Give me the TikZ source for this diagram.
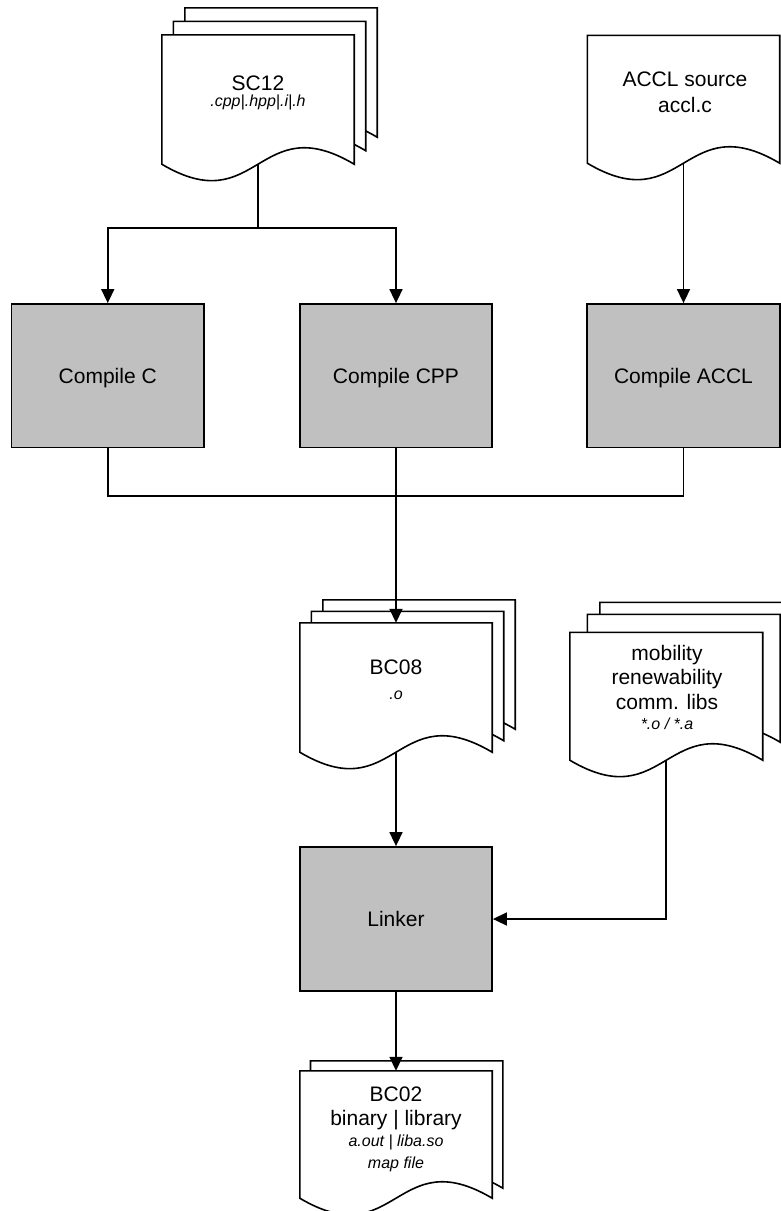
\documentclass[tikz,border=0pt]{standalone}
\usepackage{fontspec}
\setmainfont{Liberation Sans}
\usetikzlibrary{arrows.meta,calc}
\definecolor{stagegray}{RGB}{192,192,192}
\pgfdeclarelayer{sheets}
\pgfsetlayers{sheets,main}

% one sheet of a document symbol, shifted by (#2,#3) from the node #1
\newcommand\docsheet[3]{%
  \filldraw[sheetline]
    ($(#1.south west)+(#2,#3)$) -- ($(#1.north west)+(#2,#3)$)
    -- ($(#1.north east)+(#2,#3)$) -- ($(#1.south east)+(#2,#3)$)
    .. controls ($(#1.south)+(#2,#3)+(0,-57)$) and ($(#1.south)+(#2,#3)+(0,57)$)
    .. ($(#1.south west)+(#2,#3)$) -- cycle;}

\begin{document}
\begin{tikzpicture}[x=1pt,y=-1pt,
  sheetline/.style={draw=black,fill=white,line width=1.6pt,line join=miter},
  docframe/.style={inner sep=0pt,minimum width=192pt,minimum height=128pt},
  stagebox/.style={draw=black,fill=stagegray,line width=1.8pt,inner sep=0pt,
    minimum width=192.5pt,minimum height=143.5pt,text depth=0pt,
    font=\fontsize{21}{25}\selectfont},
  headline/.style={anchor=base,inner sep=0pt,font=\fontsize{21}{25}\selectfont},
  subline/.style={anchor=base,inner sep=0pt,font=\fontsize{16}{19}\selectfont\itshape},
  flowline/.style={line width=1.6pt},
  flowarrow/.style={flowline,-{Triangle[length=14pt,width=13pt]}}]

\useasboundingbox (0,0) rectangle (780,1211);

% document symbols (outline drawn on the sheets layer)
\node[docframe,minimum height=129pt] (sc12) at (258,99.5) {};
\node[docframe,minimum height=127.5pt] (accl) at (683.5,99.25) {};
\node[docframe,minimum height=129pt] (bc08) at (396,687.5) {};
\node[docframe,minimum width=192.5pt,minimum height=127.5pt] (mob) at (666.25,696.25) {};
\node[docframe,minimum height=127pt] (bc02) at (396,1134.5) {};

\begin{pgfonlayer}{sheets}
  \fill[white] (0,0) rectangle (780,1211);
  \docsheet{sc12}{23}{-27}
  \docsheet{sc12}{11.5}{-13.5}
  \docsheet{sc12}{0}{0}
  \docsheet{accl}{0}{0}
  \docsheet{bc08}{23}{-23}
  \docsheet{bc08}{11.5}{-11.5}
  \docsheet{bc08}{0}{0}
  \docsheet{mob}{30}{-30}
  \docsheet{mob}{17.5}{-18}
  \docsheet{mob}{0}{0}
  \docsheet{bc02}{10.7}{-10}
  \docsheet{bc02}{0}{0}
\end{pgfonlayer}

% document texts
\node[headline] (sc12-a) at (258,90) {SC12};
\node[subline]  (sc12-b) at (258,106) {.cpp|.hpp|.i|.h};
\node[headline] (accl-a) at (685,86) {ACCL source};
\node[headline] (accl-b) at (685,112) {accl.c};
\node[headline] (bc08-a) at (396,674) {BC08};
\node[subline]  (bc08-b) at (396,699.3) {.o};
\node[headline] (mob-a) at (667,660.5) {mobility};
\node[headline] (mob-b) at (667,684) {renewability};
\node[headline] (mob-c) at (667,709) {comm. libs};
\node[subline]  (mob-d) at (667,729.5) {*.o / *.a};
\node[headline] (bc02-a) at (396,1101) {BC02};
\node[headline] (bc02-b) at (396,1125) {binary | library};
\node[subline]  (bc02-c) at (396,1146) {a.out | liba.so};
\node[subline]  (bc02-d) at (396,1168) {map file};

% processing steps
\node[stagebox] (cc)    at (107.75,375.75) {Compile C};
\node[stagebox] (ccpp)  at (396,375.75) {Compile CPP};
\node[stagebox] (caccl) at (683.5,375.75) {Compile ACCL};
\node[stagebox,minimum width=192pt,minimum height=144pt] (linker) at (396,919) {Linker};

% connectors
\coordinate (fork) at (258,228);
\coordinate (merge) at (396,496);
\draw[flowline] (sc12.south) -- (fork);
\draw[flowarrow] (fork) -| (cc.north);
\draw[flowarrow] (fork) -| (ccpp.north);
\draw[flowarrow] (accl.south) -- (caccl.north);
\draw[flowline] (cc.south) |- (merge);
\draw[flowline] (caccl.south) |- (merge);
\draw[flowarrow] (ccpp.south) -- (bc08.north);
\draw[flowarrow] (bc08.south) -- (linker.north);
\draw[flowarrow] (mob.south) |- (linker.east);
\draw[flowarrow] (linker.south) -- (bc02.north);
\end{tikzpicture}
\end{document}
